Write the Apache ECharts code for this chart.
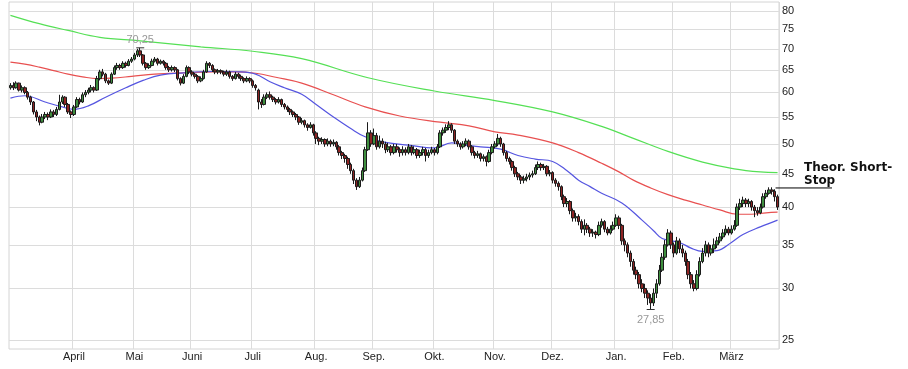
<!DOCTYPE html>
<html><head><meta charset="utf-8">
<script src="https://cdn.jsdelivr.net/npm/echarts@6/dist/echarts.min.js"></script>
<style>html,body{margin:0;padding:0;background:#fff}#c{width:908px;height:369px}</style>
</head><body><div id="c"></div>
<script>
const monthNames = ['März','April','Mai','Juni','Juli','Aug.','Sep.','Okt.','Nov.','Dez.','Jan.','Feb.','März'];
const monthDays = [22,21,20,21,22,20,21,21,20,22,20,20,17];
const yTicks = [25,30,35,40,45,50,55,60,65,70,75,80];
// [open, close, low, high]
const ohlc = [
[61.0,61.5,60.6,62.0],[61.5,61.0,60.5,62.2],[61.0,62.0,60.8,62.4],[62.0,60.5,60.2,62.1],[60.5,61.0,60.0,61.5],
[61.0,60.0,59.6,61.3],[60.0,59.0,58.5,60.3],[59.0,58.0,57.4,59.3],[58.0,56.0,55.5,58.2],[56.0,55.0,54.2,56.4],
[55.0,54.0,53.4,55.3],[54.0,55.0,53.8,55.6],[55.0,55.5,54.6,56.0],[55.5,55.0,54.4,55.9],[55.0,56.0,54.8,56.5],
[56.0,55.5,55.0,56.4],[55.5,56.5,55.2,57.0],[56.5,58.0,56.3,59.5],[58.0,59.0,57.6,59.4],[59.0,57.5,57.0,59.2],
[57.5,56.0,55.6,57.8],[56.0,55.5,54.8,56.3],[55.5,57.0,55.2,57.4],[57.0,58.5,56.8,59.0],[58.5,58.0,57.5,58.9],
[58.0,59.5,57.8,60.0],[59.5,60.0,59.0,60.5],[60.0,60.5,59.6,61.0],[60.5,61.0,60.0,61.6],[61.0,60.5,60.0,61.3],
[60.5,63.0,60.3,63.6],[63.0,64.5,62.6,65.0],[64.5,64.0,63.5,65.2],[64.0,62.5,62.0,64.3],[62.5,62.0,61.6,62.8],
[62.0,64.0,61.8,64.4],[64.0,65.5,63.8,66.0],[65.5,66.0,65.0,66.6],[66.0,65.5,65.0,66.4],[65.5,66.5,65.2,67.0],
[66.5,66.0,65.5,66.9],[66.0,67.0,65.8,67.5],[67.0,67.5,66.6,68.0],[67.5,68.5,67.2,69.0],[68.5,69.5,68.0,70.0],
[69.5,68.5,68.0,70.25],[68.5,66.5,66.0,68.7],[66.5,65.5,65.0,66.8],[65.5,66.0,65.2,66.5],[66.0,67.0,65.8,67.6],
[67.0,67.5,66.7,68.0],[67.5,66.5,66.0,67.8],[66.5,67.0,66.2,67.4],[67.0,66.5,66.0,67.3],[66.5,65.5,65.0,66.8],
[65.5,65.0,64.5,65.9],[65.0,65.5,64.6,66.0],[65.5,65.0,64.5,65.8],[65.0,63.0,62.6,65.2],[63.0,62.0,61.5,63.3],
[62.0,63.5,61.8,64.0],[63.5,65.5,63.3,66.0],[65.5,64.5,64.0,65.8],[64.5,64.0,63.5,64.9],[64.0,63.5,63.0,64.3],
[63.5,62.5,62.0,63.8],[62.5,63.0,62.2,63.5],[63.0,64.5,62.8,65.0],[64.5,66.5,64.3,67.0],[66.5,66.0,65.4,66.8],
[66.0,65.0,64.5,66.3],[65.0,64.5,64.0,65.3],[64.5,64.8,64.0,65.2],[64.8,64.5,64.0,65.1],[64.5,64.0,63.5,64.8],
[64.0,64.5,63.6,65.0],[64.5,63.5,63.0,64.8],[63.5,63.0,62.5,63.8],[63.0,64.0,62.8,64.5],[64.0,63.5,63.0,64.3],
[63.5,63.0,62.5,63.9],[63.0,62.5,62.0,63.3],[62.5,63.0,62.2,63.5],[63.0,62.5,62.0,63.3],[62.5,61.5,61.0,62.8],
[61.5,61.0,60.4,61.8],[60.5,58.0,56.5,60.8],[58.0,57.5,56.8,58.6],[57.5,59.0,57.3,59.6],[59.0,59.5,58.6,60.0],
[59.5,59.0,58.5,60.2],[59.0,58.5,58.0,59.3],[58.5,58.0,57.5,58.8],[58.0,58.5,57.7,59.0],[58.5,57.5,57.0,58.7],
[57.5,57.0,56.5,57.8],[57.0,56.5,56.0,57.3],[56.5,56.0,55.4,56.8],[56.0,55.5,55.0,56.3],[55.5,55.0,54.4,55.8],
[55.0,54.0,53.5,55.2],[54.0,54.3,53.6,54.8],[54.3,53.5,53.0,54.5],[53.5,53.0,52.4,53.8],[53.0,53.5,52.8,54.0],
[53.5,52.0,51.5,53.7],[52.0,51.0,50.0,52.3],[51.0,50.5,49.8,51.3],[50.5,50.8,50.0,51.2],[50.8,50.0,49.5,51.0],
[50.0,50.5,49.6,51.0],[50.5,50.0,49.5,50.8],[50.0,50.3,49.6,50.8],[50.3,49.5,49.0,50.5],[49.5,48.5,48.0,49.8],
[48.5,48.0,47.4,48.8],[48.0,47.5,46.8,48.3],[47.5,46.5,45.8,47.8],[46.5,45.5,45.0,46.8],[45.5,44.0,43.4,45.8],
[44.0,43.0,42.5,44.3],[43.0,44.0,42.8,44.5],[44.0,45.5,43.8,46.0],[45.5,49.0,45.3,49.5],[49.0,52.0,48.8,54.0],
[52.0,50.0,49.5,52.5],[50.0,51.5,49.8,52.8],[51.5,49.5,49.0,52.0],[49.5,50.5,49.2,51.5],[50.5,50.0,49.3,51.0],
[50.0,49.0,48.4,50.4],[49.0,49.5,48.6,50.2],[49.5,48.5,48.0,49.8],[48.5,49.5,48.2,50.0],[49.5,49.0,48.5,50.0],
[49.0,48.5,47.8,49.4],[48.5,49.0,48.0,49.6],[49.0,48.5,48.0,49.4],[48.5,49.5,48.2,50.0],[49.5,48.5,48.0,49.8],
[48.5,49.0,48.2,49.6],[49.0,48.0,47.5,49.3],[48.0,48.5,47.6,49.0],[48.5,49.0,48.0,49.5],[49.0,48.0,47.0,49.3],
[48.0,48.5,47.6,49.0],[48.5,49.0,48.2,49.5],[49.0,48.5,48.0,49.3],[48.5,49.5,48.2,50.0],[49.5,52.0,49.3,52.5],
[52.0,52.5,51.5,53.0],[52.5,53.0,52.0,53.6],[53.0,53.5,52.5,54.2],[53.5,52.5,52.0,53.8],[52.5,50.5,50.0,52.7],
[50.5,50.0,49.5,50.8],[50.0,49.5,49.0,50.3],[49.5,50.0,49.2,50.5],[50.0,50.5,49.6,51.0],[50.5,49.5,49.0,50.8],
[49.5,48.5,48.0,49.8],[48.5,48.0,47.5,48.8],[48.0,48.3,47.6,48.8],[48.3,47.5,47.0,48.5],[47.5,47.8,47.0,48.2],
[47.8,47.0,46.2,48.0],[47.0,48.5,46.8,49.0],[48.5,49.5,48.2,50.0],[49.5,50.0,49.2,50.5],[50.0,51.0,49.6,51.8],
[51.0,50.0,49.5,51.3],[50.0,48.5,48.0,50.2],[48.5,47.5,47.0,48.8],[47.5,47.0,46.5,47.8],[47.0,46.0,45.5,47.3],
[46.0,45.0,44.5,46.3],[45.0,44.5,44.0,45.3],[44.5,44.0,43.4,44.8],[44.0,44.2,43.5,44.7],[44.2,44.5,43.8,45.0],
[44.5,44.8,44.0,45.2],[44.8,45.0,44.4,45.5],[45.0,46.0,44.8,46.5],[46.0,46.5,45.6,47.0],[46.5,46.0,45.5,46.8],
[46.0,46.2,45.6,46.6],[46.2,45.0,44.6,46.4],[45.0,45.2,44.6,45.6],[45.2,44.0,43.5,45.4],[44.0,43.5,43.0,44.3],
[43.5,43.0,42.4,43.8],[43.0,41.5,41.0,43.2],[41.5,40.5,40.0,41.8],[40.5,40.8,40.0,41.3],[40.8,39.5,39.0,41.0],
[39.5,38.5,38.0,39.8],[38.5,38.7,38.0,39.2],[38.7,38.0,37.5,39.0],[38.0,37.0,36.5,38.3],[37.0,37.5,36.2,38.3],
[37.5,37.0,36.5,37.8],[37.0,36.5,36.0,37.3],[36.5,36.6,36.0,37.0],[36.6,36.3,35.8,36.8],[36.3,37.5,36.1,38.0],
[37.5,38.0,37.2,38.4],[38.0,37.0,36.6,38.2],[37.0,36.5,36.2,37.3],[36.5,37.0,36.3,37.5],[37.0,37.5,36.8,38.0],
[37.5,38.5,37.3,39.0],[38.5,37.5,37.0,38.8],[37.5,35.5,35.0,37.7],[35.5,35.0,34.2,35.8],[35.0,34.0,33.5,35.3],
[34.0,33.0,32.4,34.3],[33.0,32.0,31.5,33.3],[32.0,31.5,31.0,32.4],[31.5,30.5,30.0,31.8],[30.5,30.0,29.6,31.0],
[30.0,29.5,29.0,30.5],[29.5,29.0,28.3,29.8],[29.0,28.5,27.85,29.4],[28.5,29.5,28.2,30.0],[29.5,30.5,29.0,31.0],
[30.5,32.0,30.3,32.6],[32.0,33.5,31.8,34.0],[33.5,35.0,33.2,35.6],[35.0,36.5,34.8,37.0],[36.5,35.0,34.5,36.8],
[35.0,34.0,33.5,35.3],[34.0,35.5,33.8,36.0],[35.5,34.5,34.0,35.8],[34.5,34.0,33.5,35.0],[34.0,33.0,32.5,34.3],
[33.0,31.5,31.0,33.3],[31.5,30.5,30.0,31.8],[30.5,30.0,29.7,30.9],[30.0,31.5,29.8,32.0],[31.5,33.0,31.3,33.5],
[33.0,34.0,32.8,34.6],[34.0,35.0,33.6,35.5],[35.0,34.0,33.5,35.3],[34.0,34.5,33.7,35.0],[34.5,35.0,34.0,35.8],
[35.0,35.5,34.6,36.0],[35.5,36.0,35.2,36.5],[36.0,36.5,35.7,37.0],[36.5,37.0,36.2,37.5],[37.0,36.5,36.2,37.3],
[36.5,37.0,36.3,37.5],[37.0,37.5,36.8,38.2],[37.5,40.0,37.3,40.5],[40.0,40.5,39.6,41.2],[40.5,41.0,40.0,41.5],
[41.0,40.5,40.0,41.3],[40.5,40.8,40.0,41.2],[40.8,40.0,39.5,41.0],[40.0,39.5,38.6,40.3],[39.5,39.2,38.8,40.0],
[39.2,40.0,39.0,40.5],[40.0,41.5,39.8,42.0],[41.5,42.0,41.2,42.5],[42.0,42.5,41.8,42.9],[42.5,42.3,41.8,42.9],
[42.3,41.5,40.8,42.6],[41.5,40.0,39.6,41.8]
];
// moving averages: [dayIndex, value]
const maBlue = [[0,58.8],[5,59.3],[12,58.0],[18,57.0],[22,56.5],[27,57.2],[33,59.0],[40,61.0],[46,62.6],[52,63.8],[60,64.3],[70,64.6],[80,64.5],[85,64.0],[90,62.3],[95,61.0],[101,59.6],[106,57.5],[112,55.0],[118,52.8],[123,51.3],[130,50.3],[138,49.8],[147,49.3],[153,50.2],[158,49.8],[163,49.5],[170,49.1],[176,48.0],[182,47.4],[188,47.0],[193,45.5],[197,44.0],[201,43.0],[205,42.0],[212,40.6],[219,38.2],[223,36.8],[226,35.8],[232,35.3],[236,34.6],[240,34.2],[245,34.3],[250,35.3],[254,36.3],[260,37.3],[266,38.2]];
const maRed = [[0,66.8],[5,66.3],[10,65.6],[15,64.8],[20,64.0],[25,63.4],[30,63.0],[35,63.1],[42,63.5],[50,64.0],[60,64.3],[70,64.5],[78,64.5],[85,64.2],[92,63.3],[101,62.0],[112,59.5],[123,57.0],[135,55.2],[149,54.0],[159,53.3],[168,52.2],[176,51.6],[188,50.2],[197,48.5],[205,46.7],[211,45.3],[216,44.0],[222,42.8],[228,41.8],[234,41.0],[240,40.3],[246,39.6],[252,39.0],[257,39.0],[262,39.2],[266,39.3]];
const maGreen = [[0,78.8],[10,76.5],[20,74.7],[31,72.9],[45,72.0],[66,70.5],[84,69.4],[101,67.6],[124,63.2],[147,60.3],[168,58.3],[188,56.0],[205,53.2],[216,51.0],[228,48.7],[240,46.9],[251,45.8],[260,45.3],[266,45.2]];
const maxPoint = [45, 70.25], maxLabel = '70,25';
const minPoint = [222, 27.85], minLabel = '27,85';
const shortStop = 42.8;
const shortStopText = 'Theor. Short-\nStop';

const categories = [];
const firstOfMonth = {};
monthNames.forEach((m, k) => {
  for (let d = 0; d < monthDays[k]; d++) {
    if (d === 0) firstOfMonth[categories.length] = true;
    categories.push(m + '#' + k + '-' + (d + 1));
  }
});
const isMonthStart = (i) => i > 0 && !!firstOfMonth[i];

const chart = echarts.init(document.getElementById('c'), null, {renderer: 'canvas'});
const FONT = '"Liberation Sans", Arial, sans-serif';
const lineSeries = (data, color) => ({
  type: 'line', data: data, smooth: 0.4, showSymbol: false, symbol: 'none',
  lineStyle: {color: color, width: 1.2}, z: 1, silent: true
});
chart.setOption({
  animation: false,
  grid: {left: 9, right: 129, top: 2, bottom: 20, show: true, borderColor: '#d4d4d4', borderWidth: 1},
  xAxis: {
    type: 'category', data: categories, boundaryGap: true,
    axisLine: {show: false}, axisTick: {show: false},
    axisLabel: {interval: (i) => isMonthStart(i), formatter: (v) => v.split('#')[0],
      color: '#222', fontFamily: FONT, fontSize: 11, margin: 2},
    splitLine: {show: true, interval: (i) => isMonthStart(i), lineStyle: {color: '#dcdcdc', width: 1}}
  },
  yAxis: {
    type: 'log', position: 'right', min: 24.22, max: 82.6,
    axisLine: {show: false}, axisTick: {show: false, customValues: yTicks},
    axisLabel: {customValues: yTicks, color: '#222', fontFamily: FONT, fontSize: 11, margin: 3,
      formatter: (v) => String(Math.round(v))},
    splitLine: {show: true, lineStyle: {color: '#dcdcdc', width: 1}}
  },
  series: [
    lineSeries(maGreen, '#55e055'),
    lineSeries(maRed, '#e85050'),
    lineSeries(maBlue, '#5555e0'),
    {
      type: 'candlestick', data: ohlc, barWidth: 3, z: 3,
      itemStyle: {color: '#3f8f3f', color0: '#8e2424', borderColor: '#1a1a1a', borderColor0: '#1a1a1a', borderWidth: 1},
      markPoint: {
        symbol: 'rect', symbolSize: [8, 1], silent: true,
        itemStyle: {color: '#333'},
        data: [
          {coord: maxPoint, label: {show: true, position: 'top', distance: 2, formatter: maxLabel, color: '#999', fontFamily: FONT, fontSize: 11}},
          {coord: minPoint, label: {show: true, position: 'bottom', distance: 4, formatter: minLabel, color: '#999', fontFamily: FONT, fontSize: 11}}
        ]
      }
    }
  ]
});
const ssY = chart.convertToPixel({yAxisIndex: 0}, shortStop);
const lastX = chart.convertToPixel({xAxisIndex: 0}, ohlc.length - 1);
chart.setOption({
  graphic: [
    {type: 'line', shape: {x1: lastX - 2, y1: ssY, x2: 832, y2: ssY}, style: {stroke: '#000', lineWidth: 1}, silent: true},
    {type: 'text', left: 804, top: ssY - 27, style: {text: shortStopText, fill: '#111', font: 'bold 12px "DejaVu Sans", Verdana, sans-serif', lineHeight: 13}, silent: true}
  ]
});
</script>
</body></html>
